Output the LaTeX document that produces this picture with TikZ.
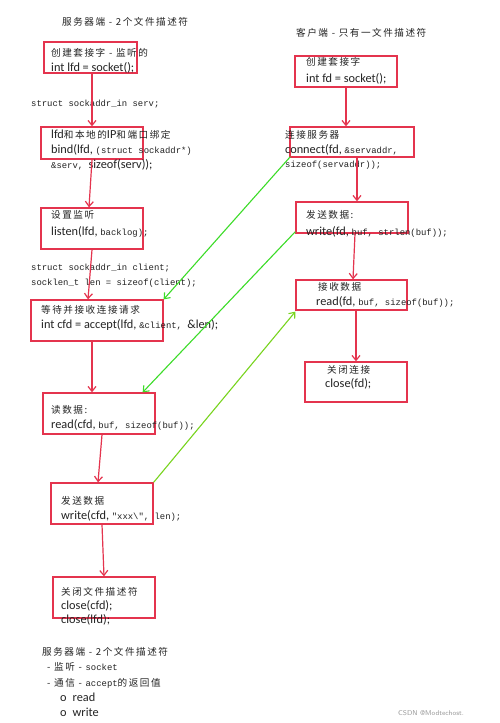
\documentclass[tikz,border=0pt]{standalone}
\usepackage{fontspec}
\setmainfont{Carlito}
\newfontfamily\zhfont[LetterSpace=16]{Noto Sans CJK SC}
\newfontfamily\mnfont{Liberation Mono}
\usetikzlibrary{arrows.meta}
\newcommand\zht[1]{{\zhfont\fontsize{9.6}{11}\selectfont #1}}
\newcommand\mnt[1]{{\mnfont\fontsize{8.9}{10}\selectfont #1}}
\definecolor{boxred}{RGB}{228,52,78}
\definecolor{grnA}{RGB}{60,220,40}
\definecolor{grnB}{RGB}{120,212,30}
\definecolor{txtc}{RGB}{35,35,35}
\tikzset{
  box/.style={draw=boxred, line width=1.3pt, inner sep=0pt},
  txt/.style={anchor=west, inner sep=0pt, text=txtc, font=\fontsize{12.3}{14}\selectfont},
  rarr/.style={draw=boxred, line width=1.2pt, -{Straight Barb[length=5pt,width=8pt]}},
  garr/.style={draw=grnA, line width=1.1pt, -{Straight Barb[length=5pt,width=8pt]}},
  garrb/.style={draw=grnB, line width=1.1pt, -{Straight Barb[length=5pt,width=8pt]}},
}
\newcommand\bx[5]{\node[box, minimum width={(#4-#2)*1pt}, minimum height={(#5-#3)*1pt}] (#1) at ({(#2+#4)/2},{(#3+#5)/2}) {};}
\begin{document}
\begin{tikzpicture}[x=1pt,y=-1pt]
\path[fill=white] (0,0) rectangle (500,723);
\useasboundingbox (0,0) rectangle (500,723);
% boxes left
\bx{b1}{44}{42}{137}{73}
\bx{b2}{41}{127}{143}{159}
\bx{b3}{41}{208}{143}{249}
\bx{b4}{31}{300}{163}{341}
\bx{b5}{43}{393}{155}{434}
\bx{b6}{51}{483}{153}{524}
\bx{b7}{53}{577}{155}{618}
% boxes right
\bx{r1}{295}{56}{397}{87}
\bx{r2}{290}{127}{414}{157}
\bx{r3}{296}{202}{408}{233}
\bx{r4}{296}{280}{407}{310}
\bx{r5}{305}{362}{407}{402}
% left texts
\node[txt] (tl) at (62,22) {\zht{服务器端 - 2个文件描述符}};
\node[txt] (t1a) at (51,53) {\zht{创建套接字 - 监听的}};
\node[txt] (t1b) at (51,68) {int lfd = socket();};
\node[txt] (s1) at (31,104) {\mnt{struct sockaddr\_in serv;}};
\node[txt] (t2a) at (51,135) {lfd\zht{和本地的}IP\zht{和端口绑定}};
\node[txt] (t2b) at (51,150) {bind(lfd, \mnt{(struct sockaddr*)}};
\node[txt] (t2c) at (51,165) {\mnt{\&serv, }sizeof(serv));};
\node[txt] (t3a) at (51,215) {\zht{设置监听}};
\node[txt] (t3b) at (51,232) {listen(lfd, \mnt{backlog);}};
\node[txt] (s2) at (31,268) {\mnt{struct sockaddr\_in client;}};
\node[txt] (s3) at (31,283) {\mnt{socklen\_t len = sizeof(client);}};
\node[txt] (t4a) at (41,310) {\zht{等待并接收连接请求}};
\node[txt] (t4b) at (41,325) {int cfd = accept(lfd, \mnt{\&client, }\&len);};
\node[txt] (t5a) at (51,410) {\zht{读数据:}};
\node[txt] (t5b) at (51,425) {read(cfd, \mnt{buf, sizeof(buf));}};
\node[txt] (t6a) at (61,501) {\zht{发送数据}};
\node[txt] (t6b) at (61,516) {write(cfd, \mnt{"xxx\textbackslash", len);}};
\node[txt] (t7a) at (61,592) {\zht{关闭文件描述符}};
\node[txt] (t7b) at (61,606) {close(cfd);};
\node[txt] (t7c) at (61,620) {close(lfd);};
\node[txt] (n1) at (42,652) {\zht{服务器端 - 2个文件描述符}};
\node[txt] (n2) at (47,667) {\zht{- 监听 - }\mnt{socket}};
\node[txt] (n3) at (47,683) {\zht{- 通信 - }\mnt{accept}\zht{的返回值}};
\node[txt] (n4) at (60,697) {o\hspace{6pt}read};
\node[txt] (n5) at (60,712) {o\hspace{6pt}write};
% right texts
\node[txt] (tr) at (296,33) {\zht{客户端 - 只有一文件描述符}};
\node[txt] (r1a) at (306,62) {\zht{创建套接字}};
\node[txt] (r1b) at (306,79) {int fd = socket();};
\node[txt] (r2a) at (285,135) {\zht{连接服务器}};
\node[txt] (r2b) at (285,150) {connect(fd, \mnt{\&servaddr,}};
\node[txt] (r2c) at (285,165) {\mnt{sizeof(servaddr));}};
\node[txt] (r3a) at (306,215) {\zht{发送数据:}};
\node[txt] (r3b) at (306,232) {write(fd, \mnt{buf, strlen(buf));}};
\node[txt] (r4a) at (318,287) {\zht{接收数据}};
\node[txt] (r4b) at (316,302) {read(fd, \mnt{buf, sizeof(buf));}};
\node[txt] (r5a) at (327,370) {\zht{关闭连接}};
\node[txt] (r5b) at (325,384) {close(fd);};
\node[anchor=west, inner sep=0pt, text=black!40, font=\sffamily\fontsize{7}{8}\selectfont] (wm) at (398,713) {CSDN @Modtechost.};
% red arrows
\draw[rarr] ([xshift=1.5pt]b1.south) -- (b2.north);
\draw[rarr] (b2.south) -- ([xshift=-3pt]b3.north);
\draw[rarr] ([xshift=0pt]b3.south) -- ([xshift=-9pt]b4.north);
\draw[rarr] ([xshift=-5pt]b4.south) -- ([xshift=-7pt]b5.north);
\draw[rarr] ([xshift=3pt]b5.south) -- ([xshift=-4pt]b6.north);
\draw[rarr] ([xshift=0pt]b6.south) -- (b7.north);
\draw[rarr] ([xshift=0pt]r1.south) -- ([xshift=-6pt]r2.north);
\draw[rarr] ([xshift=5pt]r2.south) -- ([xshift=5pt]r3.north);
\draw[rarr] ([xshift=3pt]r3.south) -- ([xshift=1.5pt]r4.north);
\draw[rarr] ([xshift=4.5pt]r4.south) -- ([xshift=0pt]r5.north);
% green arrows
\draw[garr] ([xshift=1pt,yshift=1pt]r2.south west) -- (b4.north east);
\draw[garr] ([yshift=2pt]r3.south west) -- ([xshift=-13pt]b5.north east);
\draw[garrb] (b6.north east) -- ([yshift=-1pt]r4.south west);
\end{tikzpicture}
\end{document}
